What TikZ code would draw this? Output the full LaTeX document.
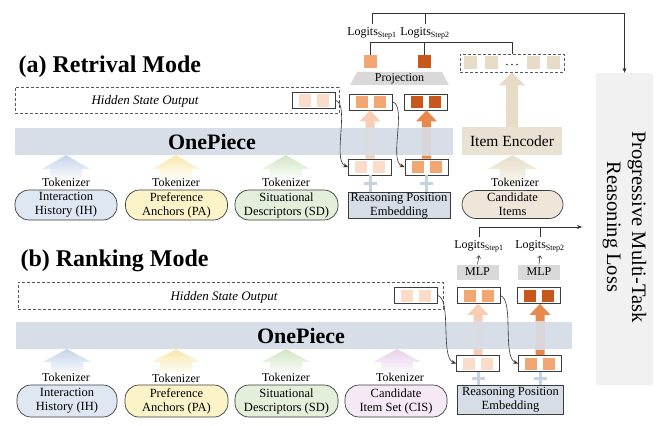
\documentclass[tikz,border=0pt]{standalone}
\usepackage{fontspec}
\setmainfont{Liberation Serif}
\usetikzlibrary{calc,arrows.meta}
\definecolor{lc}{HTML}{3C3C3C}
\definecolor{barc}{HTML}{D7DEE8}
\definecolor{rpec}{HTML}{D6DDE7}
\definecolor{grayc}{HTML}{D9D9D9}
\definecolor{pale}{HTML}{FBDCCB}
\definecolor{med}{HTML}{F2A673}
\definecolor{dark}{HTML}{C8571B}
\definecolor{arlight}{HTML}{F8CDB3}
\definecolor{arorange}{HTML}{E8884C}
\definecolor{ihf}{HTML}{DFE7F3}
\definecolor{iha}{HTML}{C5D4EA}
\definecolor{paf}{HTML}{FCF4C8}
\definecolor{paa}{HTML}{F8E9AE}
\definecolor{sdf}{HTML}{E3EFDB}
\definecolor{sda}{HTML}{D3E5C5}
\definecolor{cisf}{HTML}{F6E9F6}
\definecolor{cisa}{HTML}{E8D1EA}
\definecolor{cif}{HTML}{EEE6D8}
\definecolor{beige}{HTML}{E6DCC8}
\definecolor{iencf}{HTML}{E9E1D2}
\definecolor{progf}{HTML}{F1F1F1}
\definecolor{plusc}{HTML}{C6D1E2}
\colorlet{ghostlight}{arlight!10!barc}
\colorlet{ghostorange}{arorange!10!barc}
\newcommand\fatup[6]{%
  \path[#1] let \p1=(#2), \p2=(#3) in
    (\x1-#4pt,\y1) -- (\x1-#4pt,\y2-#6pt) -- (\x1-#5pt,\y2-#6pt) -- (\x1,\y2)
    -- (\x1+#5pt,\y2-#6pt) -- (\x1+#4pt,\y2-#6pt) -- (\x1+#4pt,\y1) -- cycle;}
\newcommand\plusmark[2]{%
  \draw[plusc, line width=3pt] (#1.south) -- (#1.south |- #2.north);
  \draw[plusc, line width=3pt] let \p1=($(#1.south)!0.5!(#1.south |- #2.north)$) in
    (\x1-6.5pt,\y1) -- (\x1+6.5pt,\y1);}
\begin{document}
\begin{tikzpicture}[x=1pt,y=-1pt,
  font=\fontsize{12}{13.5}\selectfont,
  hidbox/.style={draw=black!65, dash pattern=on 3pt off 2pt, line width=0.7pt, inner sep=0pt},
  bar/.style={fill=barc, inner sep=0pt},
  inp/.style={draw=lc, line width=0.7pt, rounded corners=14pt, minimum width=102pt, minimum height=30pt, align=center, inner sep=1pt, font=\fontsize{12.5}{14}\selectfont},
  rpe/.style={draw=lc, fill=rpec, line width=0.7pt, align=center, inner sep=0pt, font=\fontsize{12.5}{14}\selectfont},
  greybox/.style={fill=grayc, inner sep=0pt},
  tok/.style={draw=lc, fill=white, line width=0.7pt, minimum width=43pt, minimum height=16pt, inner sep=0pt,
    path picture={\fill[#1] ($(path picture bounding box.center)+(-15pt,-6pt)$) rectangle ++(12pt,12pt);
                  \fill[#1] ($(path picture bounding box.center)+(3pt,-6pt)$) rectangle ++(12pt,12pt);}},
  sq/.style={minimum size=13pt, inner sep=0pt},
  con/.style={draw=black!80, line width=0.6pt},
  arr/.style={con, -{Stealth[length=5pt,width=4pt]}},
  title/.style={font=\bfseries\fontsize{24}{28}\selectfont, anchor=west},
  optext/.style={font=\bfseries\fontsize{22}{24}\selectfont},
  hidtext/.style={font=\itshape\fontsize{13}{15}\selectfont}
]
\useasboundingbox (0,0) rectangle (660,425);

% ================= (a) Retrieval mode =================
\node[title] (ta) at (15,67) {(a) Retrival Mode};

\node[hidbox, minimum width=324pt, minimum height=26pt] (hsa) at (177,100.5) {};
\node[hidtext] (hsat) at (145,101) {Hidden State Output};
\node[tok=pale] (ha) at (314,100.5) {};

\node[tok=med] (ua1) at (371,102) {};
\node[tok=dark] (ua2) at (425.5,102) {};
\node[tok=pale] (la1) at (370,167) {};
\node[tok=med] (la2) at (426.5,167) {};

\fatup{fill=arlight}{la1.north}{ua1.south}{4.5}{10.5}{11}
\fatup{fill=arorange}{la2.north}{ua2.south}{4.5}{10.5}{11}

\node[bar, minimum width=438pt, minimum height=27pt] (opa) at (234,141.5) {};
\begin{scope}
  \clip (opa.south west) rectangle (opa.north east);
  \fatup{fill=ghostlight}{la1.north}{ua1.south}{4.5}{10.5}{11}
  \fatup{fill=ghostorange}{la2.north}{ua2.south}{4.5}{10.5}{11}
\end{scope}
\node[optext] (opat) at (212,142) {OnePiece};

\node[rpe, minimum width=102pt, minimum height=26pt] (rpea) at (399,205.5) {Reasoning Position\\Embedding};
\plusmark{la1}{rpea}
\plusmark{la2}{rpea}

\draw[arr] (ha.east) .. controls +(14,4) and +(-16,-6) .. (la1.west);
\draw[arr] (ua1.east) .. controls +(14,4) and +(-16,-6) .. (la2.west);

% projection and logits
\fill[grayc] (350,85) -- (357,72) -- (442,72) -- (449,85) -- cycle;
\node (proj) at (399.5,78.5) {Projection};
\node[sq, fill=med] (sa1) at (370,61.5) {};
\node[sq, fill=dark] (sa2) at (424,61.5) {};

\node[hidbox, minimum width=104pt, minimum height=18pt] (items) at (512,63) {};
\fill[beige] (463.5,56.5) rectangle ++(13,13);
\fill[beige] (485,56.5) rectangle ++(13,13);
\fill[beige] (527,56.5) rectangle ++(13,13);
\fill[beige] (547,56.5) rectangle ++(13,13);
\foreach \dx in {-5,0,5} \fill[black!80] ($(items.center)+(\dx,1.5)$) circle (0.9pt);

\node (lga1) at (372,33) {Logits\textsubscript{Step1}};
\node (lga2) at (425,33) {Logits\textsubscript{Step2}};

% inputs (a)
\fatup{top color=iha, bottom color=white}{66,181}{66,155}{16}{24}{14}
\fatup{top color=paa, bottom color=white}{176,181}{176,155}{16}{24}{14}
\fatup{top color=sda, bottom color=white}{286,181}{286,155}{16}{24}{14}

\node[inp, fill=ihf] (iha) at (66,205) {Interaction\\History (IH)};
\node[inp, fill=paf] (paa) at (176.5,205) {Preference\\Anchors (PA)};
\node[inp, fill=sdf, minimum width=103pt] (sda) at (286.5,205) {Situational\\Descriptors (SD)};
\node[inp, fill=cif, minimum width=101pt, minimum height=28pt] (cia) at (512.5,204.5) {Candidate\\Items};

\node[fill=iencf, minimum width=100pt, minimum height=28pt, inner sep=0pt, font=\fontsize{15.5}{17}\selectfont] (ienc) at (512,141) {Item Encoder};
\fatup{top color=beige, bottom color=white}{cia.north}{ienc.south}{13}{25}{14}
\fatup{fill=beige}{ienc.north}{items.south}{6}{13}{13}

\node (tka1) at (66,182) {Tokenizer};
\node (tka2) at (176,182) {Tokenizer};
\node (tka3) at (286,182) {Tokenizer};
\node (tka4) at (515,182) {Tokenizer};

% progressive loss box
\node[fill=progf, minimum width=57pt, minimum height=312pt, inner sep=0pt] (prog) at (624.5,229) {};
\node[rotate=-90, align=center, font=\fontsize{20.5}{25}\selectfont] (progt) at (624.5,227) {Progressive Multi-Task\\Reasoning Loss};

\coordinate (topline) at (624.5,13);
\draw[arr] (lga1.north) |- (topline) -- (prog.north);
\draw[con] (lga2.north) -- (lga2.north |- topline);
\coordinate (midline) at (512,42);
\draw[con] (sa1.north) |- (midline) -- (items.north);
\draw[con] (sa2.north) -- (sa2.north |- midline);

% ================= (b) Ranking mode =================
\node[title] (tb) at (17,261) {(b) Ranking Mode};

\node[hidbox, minimum width=425pt, minimum height=27pt] (hsb) at (230.5,295.5) {};
\node[hidtext] (hsbt) at (224,297) {Hidden State Output};
\node[tok=pale] (hb) at (416,295.5) {};

\node[tok=med] (ub1) at (478.5,295.5) {};
\node[tok=dark] (ub2) at (538.5,295.5) {};
\node[tok=pale] (lb1) at (478,363.5) {};
\node[tok=med] (lb2) at (540,363.5) {};

\fatup{fill=arlight}{lb1.north}{ub1.south}{4.5}{10.5}{11}
\fatup{fill=arorange}{lb2.north}{ub2.south}{4.5}{10.5}{11}

\node[bar, minimum width=556pt, minimum height=27pt] (opb) at (294,335.5) {};
\begin{scope}
  \clip (opb.south west) rectangle (opb.north east);
  \fatup{fill=ghostlight}{lb1.north}{ub1.south}{4.5}{10.5}{11}
  \fatup{fill=ghostorange}{lb2.north}{ub2.south}{4.5}{10.5}{11}
\end{scope}
\node[optext] (opbt) at (301,336) {OnePiece};

\node[rpe, minimum width=106pt, minimum height=29pt] (rpeb) at (510.5,400) {Reasoning Position\\Embedding};
\plusmark{lb1}{rpeb}
\plusmark{lb2}{rpeb}

\draw[arr] (hb.east) .. controls +(14,4) and +(-16,-6) .. (lb1.west);
\draw[arr] (ub1.east) .. controls +(14,4) and +(-16,-6) .. (lb2.west);

\node[greybox, minimum width=42pt, minimum height=15pt] (mlp1) at (477.5,272) {MLP};
\node[greybox, minimum width=42pt, minimum height=15pt] (mlp2) at (539,272) {MLP};
\node (lgb1) at (479,246) {Logits\textsubscript{Step1}};
\node (lgb2) at (540,246) {Logits\textsubscript{Step2}};
\draw[con, -{Straight Barb[length=2.5pt,width=4pt]}] (mlp1.north) -- (lgb1.south);
\draw[con, -{Straight Barb[length=2.5pt,width=4pt]}] (mlp2.north) -- (lgb2.south);
\coordinate (rend) at (582,227);
\draw[arr] (lgb1.north) |- (rend);
\draw[con] (lgb2.north) -- (lgb2.north |- rend);

% inputs (b)
\fatup{top color=iha, bottom color=white}{67,376}{67,349}{16}{24}{13}
\fatup{top color=paa, bottom color=white}{176,376}{176,349}{16}{24}{13}
\fatup{top color=sda, bottom color=white}{286,376}{286,349}{16}{24}{13}
\fatup{top color=cisa, bottom color=white}{397,376}{397,349}{16}{24}{13}

\node[inp, fill=ihf, minimum width=100pt, minimum height=32pt] (ihb) at (67,401) {Interaction\\History (IH)};
\node[inp, fill=paf, minimum width=103pt, minimum height=32pt] (pab) at (176.5,401) {Preference\\Anchors (PA)};
\node[inp, fill=sdf, minimum width=103pt, minimum height=32pt] (sdb) at (286.5,401) {Situational\\Descriptors (SD)};
\node[inp, fill=cisf, minimum width=102pt, minimum height=32pt] (cisb) at (396,401) {Candidate\\Item Set (CIS)};

\node (tkb1) at (66,377) {Tokenizer};
\node (tkb2) at (176,378) {Tokenizer};
\node (tkb3) at (286,377) {Tokenizer};
\node (tkb4) at (400,377) {Tokenizer};
\end{tikzpicture}
\end{document}
